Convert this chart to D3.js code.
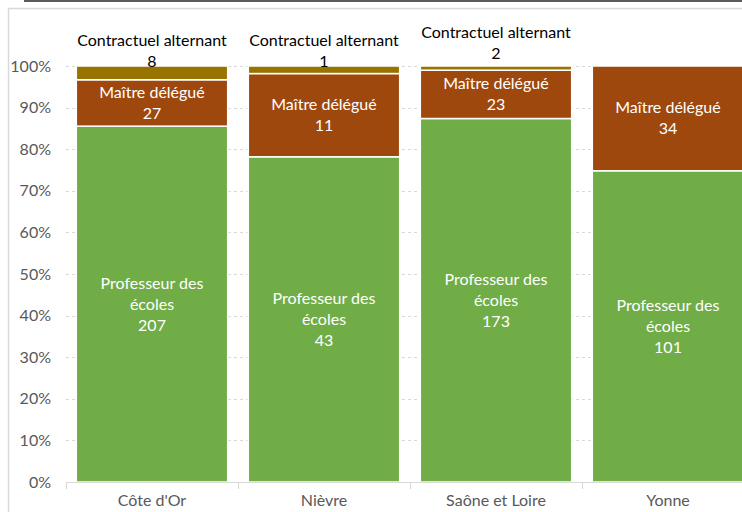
<!DOCTYPE html>
<html lang="fr">
<head><meta charset="utf-8">
<title>Statut des enseignants par département</title>
<style>
body { margin: 0; background: #fff; }
svg { display: block; font-family: Lato, "Open Sans", sans-serif; }
.tick-label { fill: #595959; font-size: 16px; }
.in-bar { fill: #fff; font-size: 16px; }
.top-label { fill: #000; font-size: 16px; }
</style>
</head>
<body>
<svg></svg>
<script src="https://cdn.jsdelivr.net/npm/d3@7"></script>
<script>

var categories = ["Côte d'Or", "Nièvre", "Saône et Loire", "Yonne"];
var professeurs = [207, 43, 173, 101];
var maitres = [27, 11, 23, 34];
var contractuels = [8, 1, 2, 0];
var seriesNames = ["Professeur des écoles", "Maître délégué", "Contractuel alternant"];
var seriesLines = [["Professeur des", "écoles"], ["Maître délégué"], ["Contractuel alternant"]];
var yTicks = [0, 0.1, 0.2, 0.3, 0.4, 0.5, 0.6, 0.7, 0.8, 0.9, 1];

var width = 742, height = 512;
var colors = ["#70ad47", "#9e480e", "#997300"];

var svg = d3.select("svg").attr("width", width).attr("height", height);

// cropped title line and chart frame
svg.append("rect").attr("x", 24).attr("y", 0).attr("width", width - 24).attr("height", 2).attr("fill", "#5b5b5b");
svg.append("path")
    .attr("d", "M8.5," + height + "V8.5H" + width)
    .attr("fill", "none").attr("stroke", "#d9d9d9").attr("stroke-width", 1.5);

var rows = categories.map(function(c, i) {
  return {cat: c, "Professeur des écoles": professeurs[i], "Maître délégué": maitres[i], "Contractuel alternant": contractuels[i]};
});

var stack = d3.stack().keys(seriesNames).offset(d3.stackOffsetExpand);
var layers = stack(rows);

var x = d3.scaleBand().domain(categories).range([66, 754]).paddingInner(0.12).paddingOuter(0.06);
var y = d3.scaleLinear().domain([0, 1]).range([482, 66]);

// grid lines
svg.append("g").selectAll("line").data(yTicks.slice(1)).join("line")
    .attr("x1", 66).attr("x2", width)
    .attr("y1", function(d) { return Math.round(y(d)) + 0.5; })
    .attr("y2", function(d) { return Math.round(y(d)) + 0.5; })
    .attr("stroke", "#d9d9d9").attr("stroke-dasharray", "3,3");

// y tick labels
svg.append("g").selectAll("text").data(yTicks).join("text")
    .attr("class", "tick-label")
    .attr("x", 51).attr("y", function(d) { return y(d); })
    .attr("dy", "0.35em").attr("text-anchor", "end")
    .text(d3.format(".0%"));

// bars
var segs = svg.append("g").selectAll("g").data(layers).join("g")
    .attr("fill", function(d, i) { return colors[i]; });

segs.selectAll("rect").data(function(d) { return d; }).join("rect")
    .attr("x", function(d) { return x(d.data.cat); })
    .attr("width", x.bandwidth())
    .attr("y", function(d) { return y(d[1]); })
    .attr("height", function(d) { return Math.max(0, y(d[0]) - y(d[1])); })
    .attr("stroke", "#fff").attr("stroke-width", 1.5);

// axis baseline and separators
svg.append("line").attr("x1", 66).attr("x2", width).attr("y1", 482.5).attr("y2", 482.5)
    .attr("stroke", "#d9d9d9");
var step = x.step();
svg.append("g").selectAll("line").data(d3.range(categories.length + 1)).join("line")
    .attr("x1", function(i) { return Math.round(66 + i * step) + 0.5; })
    .attr("x2", function(i) { return Math.round(66 + i * step) + 0.5; })
    .attr("y1", 482).attr("y2", 489)
    .attr("stroke", "#d9d9d9");

// category labels
svg.append("g").selectAll("text").data(categories).join("text")
    .attr("class", "tick-label")
    .attr("x", function(d) { return x(d) + x.bandwidth() / 2; })
    .attr("y", 500).attr("dy", "0.35em").attr("text-anchor", "middle")
    .text(function(d) { return d; });

// labels inside segments (first two series)
var lineH = 21;
layers.slice(0, 2).forEach(function(layer, si) {
  layer.forEach(function(d, i) {
    var v = si === 0 ? professeurs[i] : maitres[i];
    if (!v) return;
    var lines = seriesLines[si].concat([String(v)]);
    var cy = (y(d[0]) + y(d[1])) / 2;
    var t = svg.append("text").attr("class", "in-bar").attr("text-anchor", "middle");
    lines.forEach(function(l, k) {
      t.append("tspan")
          .attr("x", x(d.data.cat) + x.bandwidth() / 2)
          .attr("y", cy + (k - (lines.length - 1) / 2) * lineH)
          .attr("dy", "0.35em")
          .text(l);
    });
  });
});

// labels above bars for the small top series
layers[2].forEach(function(d, i) {
  if (!contractuels[i]) return;
  var top = y(d[1]) - 5 - (i === 2 ? 8 : 0);
  var t = svg.append("text").attr("class", "top-label").attr("text-anchor", "middle");
  [seriesLines[2][0], String(contractuels[i])].forEach(function(l, k) {
    t.append("tspan")
        .attr("x", x(d.data.cat) + x.bandwidth() / 2)
        .attr("y", top - (1 - k) * lineH)
        .attr("dy", "0.35em")
        .text(l);
  });
});

</script>
</body>
</html>
